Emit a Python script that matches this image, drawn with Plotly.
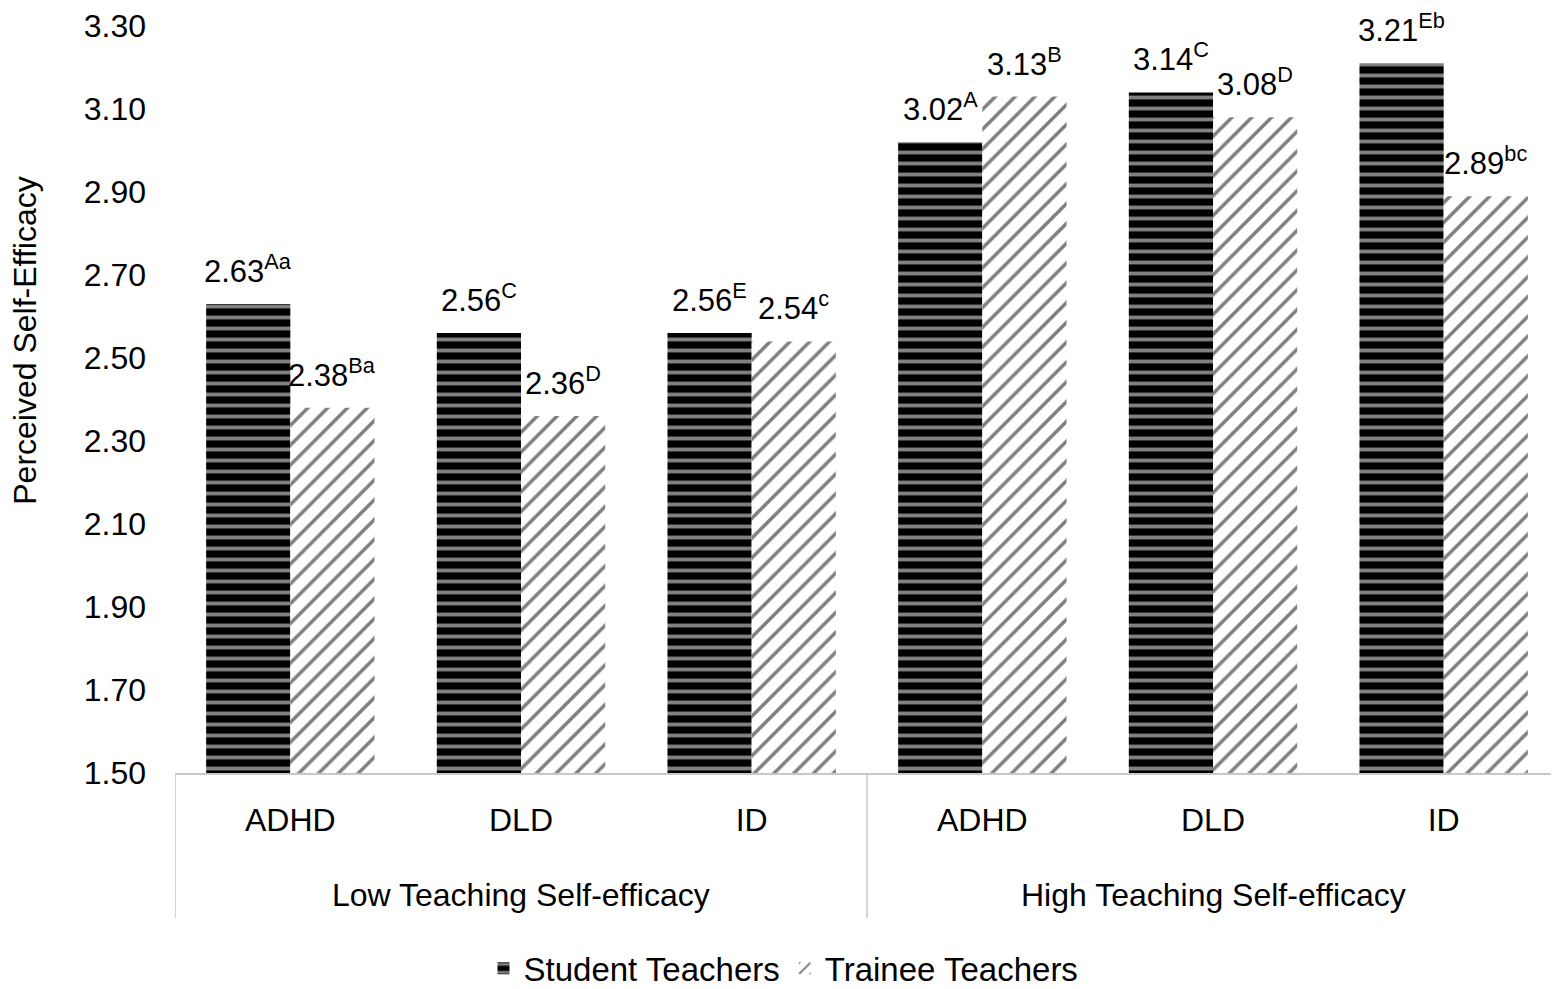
import plotly.graph_objects as go

# data
group_names = ["Low Teaching Self-efficacy", "High Teaching Self-efficacy"]
disorders = ["ADHD", "DLD", "ID", "ADHD", "DLD", "ID"]

student_vals = [2.63, 2.56, 2.56, 3.02, 3.14, 3.21]
student_sup = ["Aa", "C", "E", "A", "C", "Eb"]

trainee_vals = [2.38, 2.36, 2.54, 3.13, 3.08, 2.89]
trainee_sup = ["Ba", "D", "c", "B", "D", "bc"]

y_ticks = [1.5, 1.7, 1.9, 2.1, 2.3, 2.5, 2.7, 2.9, 3.1, 3.3]

FONT = "Liberation Sans, Arial"
BARGAP = 0.27
pos = list(range(len(disorders)))
half = (1 - BARGAP) / 4  # offset of each bar centre from the category centre

fig = go.Figure()

fig.add_trace(go.Bar(
    x=pos,
    y=student_vals,
    name="Student Teachers",
    marker=dict(
        color="black",
        line=dict(width=0),
        pattern=dict(shape="-", fgcolor="white", bgcolor="black", size=11, solidity=0.35),
    ),
))

fig.add_trace(go.Bar(
    x=pos,
    y=trainee_vals,
    name="Trainee Teachers",
    marker=dict(
        color="white",
        line=dict(width=0),
        pattern=dict(shape="/", fgcolor="black", bgcolor="white", size=14, solidity=0.25),
    ),
))

# value labels above the bars
for vals, sups, sign in [(student_vals, student_sup, -1), (trainee_vals, trainee_sup, 1)]:
    for i, (v, s) in enumerate(zip(vals, sups)):
        fig.add_annotation(
            x=i + sign * half, y=v, xref="x", yref="y",
            text=f"{v:.2f}<sup>{s}</sup>",
            showarrow=False, yanchor="bottom", yshift=13,
            font=dict(size=31, family=FONT, color="black"),
        )

# outer category labels and dividers
for g, name in enumerate(group_names):
    fig.add_annotation(
        x=g * 3 + 1, y=-0.163, xref="x", yref="paper",
        text=name, showarrow=False, yanchor="middle",
        font=dict(size=32, family=FONT, color="black"),
    )
for xd in [-0.5, 2.5, 5.5]:
    fig.add_shape(
        type="line", xref="x", yref="paper",
        x0=xd, x1=xd, y0=0, y1=-0.194,
        line=dict(color="#c8c8c8", width=1.5),
    )

# y axis title, sitting a little above the middle as in the original
fig.add_annotation(
    x=-0.108, y=0.578, xref="paper", yref="paper",
    text="Perceived Self-Efficacy", textangle=-90,
    showarrow=False, xanchor="center", yanchor="middle",
    font=dict(size=32, family=FONT, color="black"),
)

fig.update_layout(
    width=1551,
    height=981,
    barmode="group",
    bargap=BARGAP,
    bargroupgap=0,
    plot_bgcolor="white",
    paper_bgcolor="white",
    font=dict(family=FONT, size=32, color="black"),
    margin=dict(l=167, r=0, t=16, b=216),
    showlegend=True,
    legend=dict(
        orientation="h",
        xref="container", yref="container",
        x=0.5, xanchor="center",
        y=0.021, yanchor="middle",
        font=dict(size=33, family=FONT),
        itemwidth=30,
    ),
    xaxis=dict(
        range=[-0.5, 5.5],
        tickvals=pos,
        ticktext=disorders,
        showline=True,
        linecolor="#c8c8c8",
        linewidth=1.5,
        showgrid=False,
        zeroline=False,
        ticks="",
        ticklabelstandoff=18,
        tickfont=dict(size=32, family=FONT),
    ),
    yaxis=dict(
        range=[1.5, 3.3],
        tickmode="array",
        tickvals=y_ticks,
        ticktext=[f"{t:.2f}" for t in y_ticks],
        ticklabeloverflow="allow",
        showgrid=False,
        zeroline=False,
        showline=False,
        ticks="",
        ticklabelstandoff=28,
        tickfont=dict(size=32, family=FONT),
    ),
)

fig.write_html("out.html")
